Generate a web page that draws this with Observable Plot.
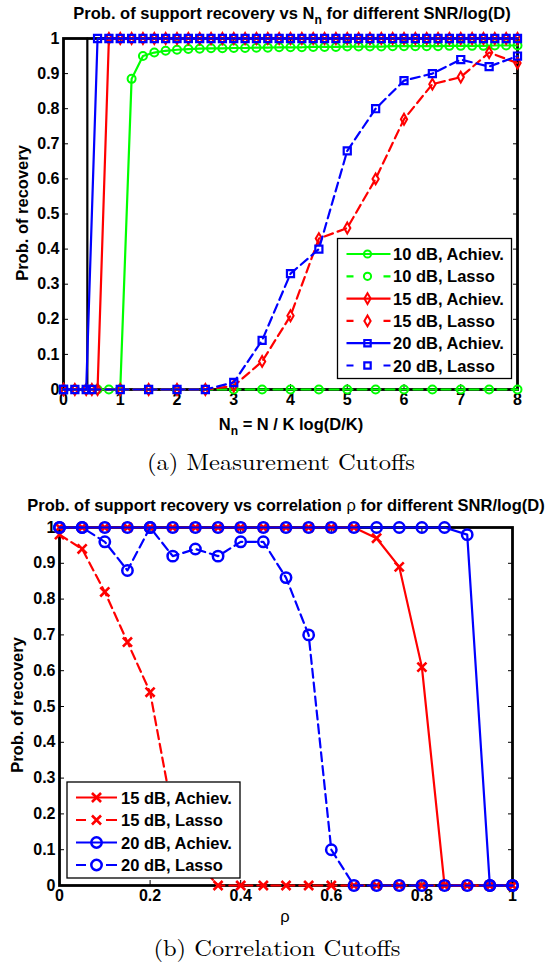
<!DOCTYPE html>
<html><head><meta charset="utf-8">
<script src="https://cdn.jsdelivr.net/npm/d3@7"></script>
<script src="https://cdn.jsdelivr.net/npm/@observablehq/plot@0.6"></script>
<style>
html,body{margin:0;padding:0;background:#fff;}
#root{position:relative;width:549px;height:967px;background:#fff;overflow:hidden;}
#c1,#c2{position:absolute;left:0;}
#c1{top:0;} #c2{top:480px;}
#ov{position:absolute;left:0;top:0;pointer-events:none;}
</style></head>
<body><div id="root"><div id="c1"></div><div id="c2"></div></div>
<script>
// ---------- Chart (a): measurement cutoffs ----------
const nnAch = [0,0.2,0.4,0.6,0.8,1.0,1.2,1.4,1.6,1.8,2.0,2.2,2.4,2.6,2.8,3.0,3.2,3.4,3.6,3.8,4.0,4.2,4.4,4.6,4.8,5.0,5.2,5.4,5.6,5.8,6.0,6.2,6.4,6.6,6.8,7.0,7.2,7.4,7.6,7.8,8.0];
const ach10 = [0,0,0,0,0,0,0.885,0.95,0.96,0.965,0.968,0.97,0.971,0.972,0.972,0.973,0.973,0.974,0.974,0.975,0.975,0.975,0.976,0.976,0.976,0.977,0.977,0.977,0.977,0.978,0.978,0.978,0.978,0.978,0.979,0.979,0.979,0.979,0.98,0.98,0.98];
const ach15 = [0,0,0,0,1,1,1,1,1,1,1,1,1,1,1,1,1,1,1,1,1,1,1,1,1,1,1,1,1,1,1,1,1,1,1,1,1,1,1,1,1];
const ach20 = [0,0,0,1,1,1,1,1,1,1,1,1,1,1,1,1,1,1,1,1,1,1,1,1,1,1,1,1,1,1,1,1,1,1,1,1,1,1,1,1,1];
const nnLasso = [0,0.5,1,1.5,2,2.5,3,3.5,4,4.5,5,5.5,6,6.5,7,7.5,8];
const lasso10 = [0,0,0,0,0,0,0,0,0,0,0,0,0,0,0,0,0];
const lasso15 = [0,0,0,0,0,0,0.01,0.08,0.21,0.43,0.46,0.60,0.77,0.87,0.89,0.96,0.93];
const lasso20 = [0,0,0,0,0,0,0.02,0.14,0.33,0.40,0.68,0.80,0.88,0.90,0.94,0.92,0.95];
const boundX = [0.42,0.42];
const boundY = [0,1];
const xTicksA = [0,1,2,3,4,5,6,7,8];
const yTicks = [0,0.1,0.2,0.3,0.4,0.5,0.6,0.7,0.8,0.9,1];

// ---------- Chart (b): correlation cutoffs ----------
const rho = [0,0.05,0.1,0.15,0.2,0.25,0.3,0.35,0.4,0.45,0.5,0.55,0.6,0.65,0.7,0.75,0.8,0.85,0.9,0.95,1];
const rAch15 = [1,1,1,1,1,1,1,1,1,1,1,1,1,1,0.97,0.89,0.61,0,0,0,0];
const rLasso15 = [0.98,0.94,0.82,0.68,0.54,0.20,0.07,0,0,0,0,0,0,0,0,0,0,0,0,0,0];
const rAch20 = [1,1,1,1,1,1,1,1,1,1,1,1,1,1,1,1,1,1,0.98,0,0];
const rLasso20 = [1,1,0.96,0.88,1,0.92,0.94,0.92,0.96,0.96,0.86,0.70,0.10,0,0,0,0,0,0,0,0];
const xTicksB = [0,0.2,0.4,0.6,0.8,1];

const legendA = ["10 dB, Achiev.","10 dB, Lasso","15 dB, Achiev.","15 dB, Lasso","20 dB, Achiev.","20 dB, Lasso"];
const legendB = ["15 dB, Achiev.","15 dB, Lasso","20 dB, Achiev.","20 dB, Lasso"];

const GREEN="#00ff00", RED="#ff0000", BLUE="#0000ff";
const DASH="9,5";
const FONT="'Liberation Sans', Arial, Helvetica, sans-serif";

const rows = (xs, ys) => xs.map((x,i)=>({x, y: ys[i]}));
const fmt = d => String(d);
const TXT = {fontSize: 16, fontWeight: "bold", fontFamily: FONT, fill: "black"};

function axes(xt) {
  return [
    Plot.axisX(xt, {tickSize: 0, tickPadding: 4, tickFormat: fmt, label: null, ...TXT}),
    Plot.axisX(xt, {tickSize: -5, tickFormat: () => "", label: null}),
    Plot.axisX(xt, {anchor: "top", tickSize: -5, tickFormat: () => "", label: null}),
    Plot.axisY(yTicks, {tickSize: 0, tickPadding: 4, tickFormat: fmt, label: null, ...TXT}),
    Plot.axisY(yTicks, {tickSize: -5, tickFormat: () => "", label: null}),
    Plot.axisY(yTicks, {anchor: "right", tickSize: -5, tickFormat: () => "", label: null}),
    Plot.frame({stroke: "black", strokeWidth: 2.8})
  ];
}
function series(data, color, dashed, symbol, r, sw) {
  return [
    Plot.line(data, {x: "x", y: "y", stroke: color, strokeWidth: 2.2, strokeDasharray: dashed ? DASH : null}),
    Plot.dot(data, {x: "x", y: "y", stroke: color, fill: "none", symbol, r, strokeWidth: sw})
  ];
}

const chartA = Plot.plot({
  width: 549, height: 440,
  marginLeft: 63, marginRight: 32, marginTop: 38, marginBottom: 51,
  x: {domain: [0, 8]},
  y: {domain: [0, 1]},
  style: {fontFamily: FONT, fontSize: "16px", fontWeight: "bold", color: "black", background: "white", overflow: "visible"},
  marks: [
    ...axes(xTicksA),
    Plot.line(rows(boundX, boundY), {x: "x", y: "y", stroke: "black", strokeWidth: 2.2}),
    ...series(rows(nnAch, ach10), GREEN, false, "circle", 4, 2),
    ...series(rows(nnLasso, lasso10), GREEN, true, "circle", 4, 2),
    ...series(rows(nnAch, ach15), RED, false, "diamond", 3.3, 2),
    ...series(rows(nnLasso, lasso15), RED, true, "diamond", 3.3, 2),
    ...series(rows(nnAch, ach20), BLUE, false, "square", 4, 2.2),
    ...series(rows(nnLasso, lasso20), BLUE, true, "square", 4, 2.2)
  ]
});
document.getElementById("c1").appendChild(chartA);

const chartB = Plot.plot({
  width: 549, height: 440,
  marginLeft: 59, marginRight: 37, marginTop: 47, marginBottom: 35,
  x: {domain: [0, 1]},
  y: {domain: [0, 1]},
  style: {fontFamily: FONT, fontSize: "16px", fontWeight: "bold", color: "black", background: "white", overflow: "visible"},
  marks: [
    ...axes(xTicksB),
    ...series(rows(rho, rAch15), RED, false, "times", 4.2, 2.6),
    ...series(rows(rho, rLasso15), RED, true, "times", 4.2, 2.6),
    ...series(rows(rho, rAch20), BLUE, false, "circle", 5.2, 2.5),
    ...series(rows(rho, rLasso20), BLUE, true, "circle", 5.2, 2.5)
  ]
});
document.getElementById("c2").appendChild(chartB);

// ---------- overlay text: titles, labels, captions, legends ----------
const NS = "http://www.w3.org/2000/svg";
const ov = document.createElementNS(NS, "svg");
ov.setAttribute("id", "ov"); ov.setAttribute("width", 549); ov.setAttribute("height", 967);
document.getElementById("root").appendChild(ov);
function el(tag, attrs, parent) {
  const e = document.createElementNS(NS, tag);
  for (const k in attrs) e.setAttribute(k, attrs[k]);
  (parent || ov).appendChild(e); return e;
}
function text(x, y, parts, attrs) {
  const t = el("text", Object.assign({x, y, "font-family": FONT, "font-size": 16.5, "font-weight": "bold", "text-anchor": "middle", fill: "black"}, attrs || {}));
  for (const p of parts) {
    const s = el("tspan", p.attrs || {}, t);
    s.textContent = p.t;
  }
  return t;
}
const SERIF = "'Latin Modern Roman', 'CMU Serif', 'Liberation Serif', 'Times New Roman', serif";
// chart (a) title and labels
text(292, 19, [{t: "Prob. of support recovery vs N"}, {t: "n", attrs: {"font-size": 12, dy: 5}}, {t: " for different SNR/log(D)", attrs: {dy: -5}}]);
text(291, 430, [{t: "N"}, {t: "n", attrs: {"font-size": 12, dy: 5}}, {t: " = N / K log(D/K)", attrs: {dy: -5}}]);
text(0, 0, [{t: "Prob. of recovery"}], {transform: "translate(27.5,213) rotate(-90)"});
text(281, 470, [{t: "(a) Measurement Cutoffs"}], {"font-family": SERIF, "font-weight": "normal", "font-size": 23, textLength: 268, lengthAdjust: "spacingAndGlyphs"});
// chart (b)
text(286, 511, [{t: "Prob. of support recovery vs correlation "}, {t: "ρ", attrs: {"font-weight": "normal"}}, {t: " for different SNR/log(D)"}]);
text(285, 922, [{t: "ρ"}], {"font-weight": "normal"});
text(0, 0, [{t: "Prob. of recovery"}], {transform: "translate(22.5,705) rotate(-90)"});
text(277, 956, [{t: "(b) Correlation Cutoffs"}], {"font-family": SERIF, "font-weight": "normal", "font-size": 23, textLength: 247, lengthAdjust: "spacingAndGlyphs"});

const symMap = {circle: d3.symbolCircle, diamond: d3.symbolDiamond, square: d3.symbolSquare, times: d3.symbolTimes};
function legend(x0, y0, w, h, labels, colors, dashes, syms, radii, sws, cfg) {
  el("rect", {x: x0, y: y0, width: w, height: h, fill: "white", stroke: "black", "stroke-width": 1.3});
  labels.forEach((lab, i) => {
    const cy = y0 + cfg.first + cfg.step * i;
    el("line", {x1: x0 + cfg.l1, x2: x0 + cfg.l2, y1: cy, y2: cy, stroke: colors[i], "stroke-width": 2.2,
      "stroke-dasharray": dashes[i] ? cfg.dash : "none"});
    const r = radii[i];
    el("path", {d: d3.symbol(symMap[syms[i]], Math.PI * r * r)(), transform: `translate(${x0 + cfg.m},${cy})`,
      fill: "none", stroke: colors[i], "stroke-width": sws[i]});
    text(x0 + cfg.t, cy + 6, [{t: lab}], {"text-anchor": "start"});
  });
}
legend(337.5, 238.5, 174, 140, legendA,
  [GREEN, GREEN, RED, RED, BLUE, BLUE], [false, true, false, true, false, true],
  ["circle", "circle", "diamond", "diamond", "square", "square"], [3.6, 3.6, 3.3, 3.3, 3.6, 3.6], [2, 2, 2, 2, 2.2, 2.2],
  {first: 15.5, step: 22.3, l1: 9, l2: 53, m: 30, t: 55.5, dash: "7,30,7"});
legend(67, 782, 173, 96, legendB,
  [RED, RED, BLUE, BLUE], [false, true, false, true],
  ["times", "times", "circle", "circle"], [4.2, 4.2, 5.2, 5.2], [2.6, 2.6, 2.5, 2.5],
  {first: 15.5, step: 22.5, l1: 9, l2: 50, m: 29.5, t: 54, dash: "10,20,11"});
</script></body></html>
